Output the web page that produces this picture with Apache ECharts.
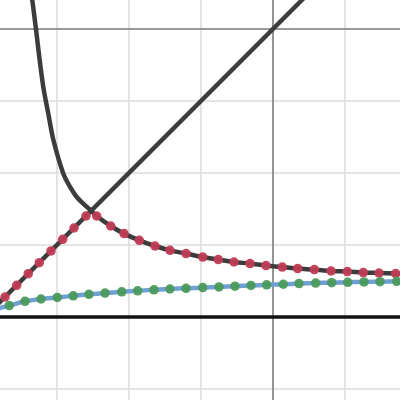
<!DOCTYPE html>
<html>
<head>
<meta charset="utf-8">
<script src="https://cdn.jsdelivr.net/npm/echarts@6/dist/echarts.min.js"></script>
<style>
html,body{margin:0;padding:0;background:#fff;width:400px;height:400px;overflow:hidden;position:relative;}
#c{position:absolute;left:-15px;top:-43.3px;width:432px;height:504px;}
</style>
</head>
<body>
<div id="c"></div>
<script>
// Red dots: left part (on the line y = x)
var redLeftX = [-3.722, -3.560, -3.399, -3.246, -3.083, -2.921, -2.764, -2.597];
var redLeftY = [-3.722, -3.560, -3.399, -3.246, -3.083, -2.921, -2.764, -2.597];
// Red dots: right part (on the descending curve)
var redRightX = [-2.449, -2.254, -2.069, -1.857, -1.639, -1.431, -1.208, -0.976, -0.760, -0.542, -0.319, -0.097, 0.129, 0.343, 0.574, 0.806, 1.032, 1.254, 1.472, 1.704];
var redRightY = [-2.597, -2.736, -2.842, -2.935, -3.014, -3.074, -3.119, -3.167, -3.203, -3.236, -3.258, -3.286, -3.306, -3.328, -3.342, -3.361, -3.369, -3.383, -3.389, -3.397];
// Green dots
var greenX = [-3.663, -3.444, -3.222, -2.996, -2.774, -2.556, -2.333, -2.101, -1.879, -1.653, -1.431, -1.208, -0.976, -0.750, -0.528, -0.306, -0.088, 0.143, 0.361, 0.593, 0.815, 1.038, 1.264, 1.486, 1.718];
var greenY = [-3.842, -3.782, -3.750, -3.728, -3.706, -3.685, -3.667, -3.650, -3.637, -3.622, -3.611, -3.601, -3.592, -3.582, -3.572, -3.562, -3.553, -3.545, -3.536, -3.529, -3.523, -3.518, -3.513, -3.509, -3.504];
// Blue curve (through the green dots, to the view edges)
var blueX = [-3.85, -3.663, -3.444, -3.222, -2.996, -2.774, -2.556, -2.333, -2.101, -1.879, -1.653, -1.431, -1.208, -0.976, -0.750, -0.528, -0.306, -0.088, 0.143, 0.361, 0.593, 0.815, 1.038, 1.264, 1.486, 1.718, 1.85];
var blueY = [-3.89, -3.842, -3.782, -3.750, -3.728, -3.706, -3.685, -3.667, -3.650, -3.637, -3.622, -3.611, -3.601, -3.592, -3.582, -3.572, -3.562, -3.553, -3.545, -3.536, -3.529, -3.523, -3.518, -3.513, -3.509, -3.504, -3.50];
// Dark curve: steep left branch down to the cusp
var curveLeftX = [-3.368, -3.343, -3.292, -3.246, -3.190, -3.121, -3.049, -2.913, -2.819, -2.726, -2.635, -2.532];
var curveLeftY = [0.607, 0.399, 0.0, -0.389, -0.806, -1.175, -1.546, -2.008, -2.194, -2.333, -2.425, -2.518];
// Dark curve: right branch from the cusp (through the red dots)
var curveRightX = [-2.532, -2.449, -2.254, -2.069, -1.857, -1.639, -1.431, -1.208, -0.976, -0.760, -0.542, -0.319, -0.097, 0.129, 0.343, 0.574, 0.806, 1.032, 1.254, 1.472, 1.704, 1.85];
var curveRightY = [-2.518, -2.597, -2.736, -2.842, -2.935, -3.014, -3.074, -3.119, -3.167, -3.203, -3.236, -3.258, -3.286, -3.306, -3.328, -3.342, -3.361, -3.369, -3.383, -3.389, -3.397, -3.40];
// Line y = x
var diagX = [-4, 1];
var diagY = [-4, 1];
// Horizontal line y = -4
var floorX = [-4, 2];
var floorY = [-4, -4];

function pts(xs, ys) { return xs.map(function (x, i) { return [x, ys[i]]; }); }

var chart = echarts.init(document.getElementById('c'), null, {renderer: 'canvas'});
var dark = '#3c3c3c';
chart.setOption({
  animation: false,
  backgroundColor: '#ffffff',
  grid: {left: 0, right: 0, top: 0, bottom: 0, containLabel: false},
  xAxis: {
    type: 'value', min: -4, max: 2, interval: 1,
    axisLine: {show: true, onZero: true, lineStyle: {color: '#808080', width: 1.6}},
    axisTick: {show: false}, axisLabel: {show: false},
    splitLine: {show: true, lineStyle: {color: '#dcdcdc', width: 1.6}}
  },
  yAxis: {
    type: 'value', min: -6, max: 1, interval: 1,
    axisLine: {show: true, onZero: true, lineStyle: {color: '#808080', width: 1.6}},
    axisTick: {show: false}, axisLabel: {show: false},
    splitLine: {show: true, lineStyle: {color: '#dcdcdc', width: 1.6}}
  },
  series: [
    {type: 'line', data: pts(curveLeftX, curveLeftY), smooth: 0.3, showSymbol: false,
     lineStyle: {color: dark, width: 4.5}, z: 2},
    {type: 'line', data: pts(curveRightX, curveRightY), smooth: 0.4, showSymbol: false,
     lineStyle: {color: dark, width: 4.5}, z: 2},
    {type: 'line', data: pts(diagX, diagY), showSymbol: false,
     lineStyle: {color: dark, width: 4.5}, z: 2},
    {type: 'scatter', data: pts(redLeftX, redLeftY).concat(pts(redRightX, redRightY)), symbolSize: 9.5,
     itemStyle: {color: '#c03c55', opacity: 0.95}, z: 3},
    {type: 'line', data: pts(blueX, blueY), smooth: 0.4, showSymbol: false,
     lineStyle: {color: '#6f9fd3', width: 4.5}, z: 4},
    {type: 'scatter', data: pts(greenX, greenY), symbolSize: 9.5,
     itemStyle: {color: '#4a9a5c', opacity: 0.95}, z: 5},
    {type: 'line', data: pts(floorX, floorY), showSymbol: false,
     lineStyle: {color: '#111111', width: 3.4}, z: 6}
  ]
});
</script>
</body>
</html>
